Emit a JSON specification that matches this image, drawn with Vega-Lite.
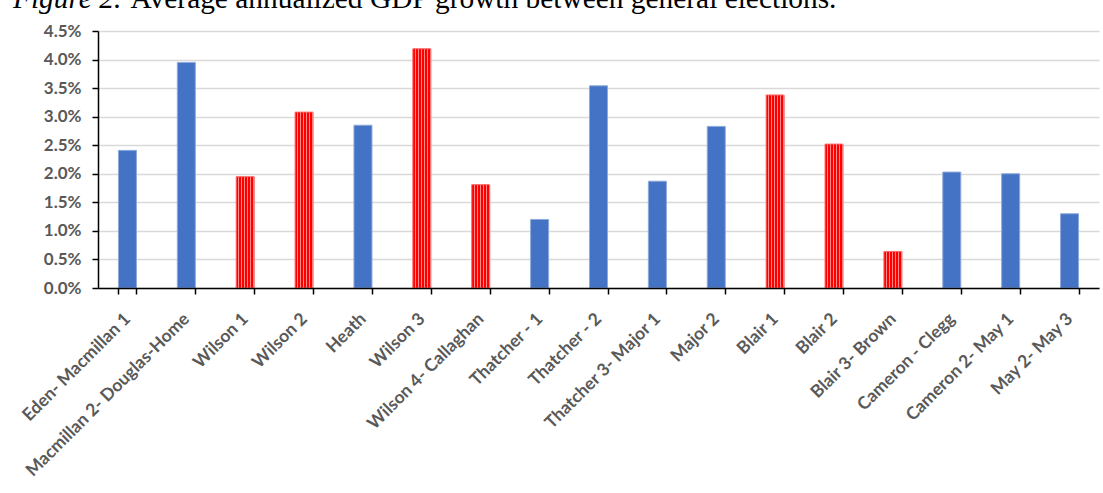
{
  "$schema": "https://vega.github.io/schema/vega-lite/v6.json",
  "width": 1001,
  "height": 257,
  "autosize": {"type": "none"},
  "padding": {"left": 98, "top": 31, "right": 4, "bottom": 205},
  "background": "white",
  "title": {
    "text": "Figure 2.",
    "subtitle": "\u200b\u00a0\u00a0\u00a0\u00a0\u00a0\u00a0\u00a0\u00a0\u00a0\u00a0\u00a0\u00a0\u00a0\u00a0\u00a0\u00a0Average annualized GDP growth between general elections.",
    "anchor": "start",
    "frame": "group",
    "dx": -85,
    "dy": -4,
    "font": "Liberation Serif",
    "fontSize": 29.4,
    "fontStyle": "italic",
    "fontWeight": "normal",
    "color": "black",
    "subtitleFont": "Liberation Serif",
    "subtitleFontSize": 29.4,
    "subtitleFontStyle": "normal",
    "subtitleColor": "black",
    "subtitlePadding": -29.4
  },
  "data": {
    "values": [
      {"period": "Eden- Macmillan 1", "growth": 0.0241, "party": "Conservative"},
      {"period": "Macmillan 2- Douglas-Home", "growth": 0.0395, "party": "Conservative"},
      {"period": "Wilson 1", "growth": 0.0195, "party": "Labour"},
      {"period": "Wilson 2", "growth": 0.0308, "party": "Labour"},
      {"period": "Heath", "growth": 0.0285, "party": "Conservative"},
      {"period": "Wilson 3", "growth": 0.0419, "party": "Labour"},
      {"period": "Wilson 4- Callaghan", "growth": 0.0181, "party": "Labour"},
      {"period": "Thatcher - 1", "growth": 0.0120, "party": "Conservative"},
      {"period": "Thatcher - 2", "growth": 0.0354, "party": "Conservative"},
      {"period": "Thatcher 3- Major 1", "growth": 0.0187, "party": "Conservative"},
      {"period": "Major 2", "growth": 0.0283, "party": "Conservative"},
      {"period": "Blair 1", "growth": 0.0338, "party": "Labour"},
      {"period": "Blair 2", "growth": 0.0252, "party": "Labour"},
      {"period": "Blair 3- Brown", "growth": 0.0064, "party": "Labour"},
      {"period": "Cameron - Clegg", "growth": 0.0203, "party": "Conservative"},
      {"period": "Cameron 2- May 1", "growth": 0.0200, "party": "Conservative"},
      {"period": "May 2- May 3", "growth": 0.0130, "party": "Conservative"}
    ]
  },
  "mark": {"type": "bar", "strokeWidth": 1},
  "encoding": {
    "x": {
      "field": "period",
      "type": "nominal",
      "sort": null,
      "scale": {"paddingInner": 0.694, "paddingOuter": 0.347},
      "axis": {
        "title": null,
        "zindex": 1,
        "labelAngle": -45,
        "labelAlign": "right",
        "labelBaseline": "middle",
        "labelPadding": 22,
        "labelFont": "Lato",
        "labelFontSize": 17.5,
        "labelFontWeight": "bold",
        "labelColor": "#595959",
        "labelLimit": 400,
        "domainColor": "black",
        "domainWidth": 1.5,
        "tickColor": "black",
        "tickWidth": 1.5,
        "tickSize": 6,
        "tickBand": "extent"
      }
    },
    "y": {
      "field": "growth",
      "type": "quantitative",
      "scale": {"domain": [0, 0.045], "nice": false},
      "axis": {
        "title": null,
        "values": [0, 0.005, 0.01, 0.015, 0.02, 0.025, 0.03, 0.035, 0.04, 0.045],
        "format": ".1%",
        "labelFont": "Lato",
        "labelFontSize": 17,
        "labelFontWeight": "bold",
        "labelColor": "#595959",
        "labelPadding": 11,
        "domainColor": "black",
        "domainWidth": 1.5,
        "tickColor": "black",
        "tickWidth": 1.5,
        "tickSize": 6,
        "grid": true,
        "gridColor": "#d9d9d9",
        "gridWidth": 1.5
      }
    },
    "fill": {
      "condition": {
        "test": "datum.party === 'Labour'",
        "value": {
          "gradient": "linear",
          "x1": 0, "y1": 0, "x2": 1, "y2": 0,
          "stops": [
            {"offset": 0, "color": "#ff0000"},
            {"offset": 0.1, "color": "#ff0000"},
            {"offset": 0.1, "color": "#ff8a8a"},
            {"offset": 0.167, "color": "#ff8a8a"},
            {"offset": 0.167, "color": "#ff0000"},
            {"offset": 0.267, "color": "#ff0000"},
            {"offset": 0.267, "color": "#ff8a8a"},
            {"offset": 0.333, "color": "#ff8a8a"},
            {"offset": 0.333, "color": "#ff0000"},
            {"offset": 0.433, "color": "#ff0000"},
            {"offset": 0.433, "color": "#ff8a8a"},
            {"offset": 0.5, "color": "#ff8a8a"},
            {"offset": 0.5, "color": "#ff0000"},
            {"offset": 0.6, "color": "#ff0000"},
            {"offset": 0.6, "color": "#ff8a8a"},
            {"offset": 0.667, "color": "#ff8a8a"},
            {"offset": 0.667, "color": "#ff0000"},
            {"offset": 0.767, "color": "#ff0000"},
            {"offset": 0.767, "color": "#ff8a8a"},
            {"offset": 0.833, "color": "#ff8a8a"},
            {"offset": 0.833, "color": "#ff0000"},
            {"offset": 0.933, "color": "#ff0000"},
            {"offset": 0.933, "color": "#ff8a8a"},
            {"offset": 1, "color": "#ff8a8a"}
          ]
        }
      },
      "value": "#4472c4"
    },
    "stroke": {
      "condition": {"test": "datum.party === 'Labour'", "value": "#ff6a6a"},
      "value": "#8eaadb"
    }
  },
  "config": {
    "view": {"stroke": null}
  }
}
